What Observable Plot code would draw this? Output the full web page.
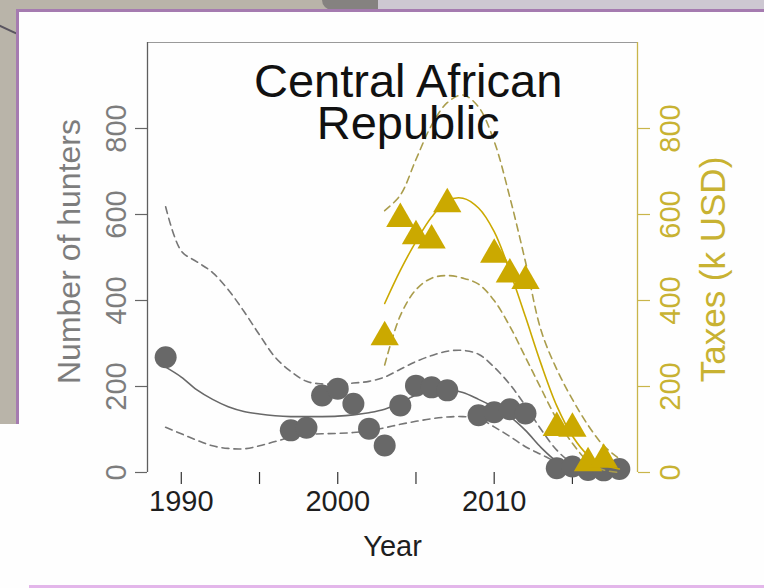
<!DOCTYPE html>
<html>
<head>
<meta charset="utf-8">
<script src="https://cdn.jsdelivr.net/npm/d3@7"></script>
<script src="https://cdn.jsdelivr.net/npm/@observablehq/plot@0.6"></script>
<style>
  html, body { margin: 0; padding: 0; }
  body { width: 764px; height: 588px; position: relative; overflow: hidden; background: #b9b4a9; font-family: "Liberation Sans", Arial, sans-serif; }
  .bg-top-dark { position: absolute; left: 322px; top: 0; width: 56px; height: 10px; background: #858280; border-bottom-left-radius: 18px; }
  .bg-top-right { position: absolute; left: 378px; top: 0; right: 0; height: 10px; background: #cdc8d2; }
  .panel { position: absolute; left: 16px; top: 9px; right: -4px; bottom: 2px; background: #fefefe; border-left: 3px solid #a57bb0; border-top: 3px solid #a57bb0; }
  .cover { position: absolute; left: 0; top: 424px; width: 40px; height: 164px; background: #fefefe; }
  .bottom-line { position: absolute; left: 29px; right: 0; bottom: 0; height: 3px; background: #e3b6ea; }
  .diag { position: absolute; left: -2px; top: 24px; width: 20px; height: 2px; background: #5a5560; transform: rotate(25deg); transform-origin: left center; }
  #chart { position: absolute; left: 0; top: 0; }
</style>
</head>
<body>
<div class="bg-top-dark"></div>
<div class="bg-top-right"></div>
<div class="diag"></div>
<div class="panel"></div>
<div class="cover"></div>
<div class="bottom-line"></div>
<div id="chart"></div>
<script>
// ---- observed data ----
const hunterYears = [1989, 1997, 1998, 1999, 2000, 2001, 2002, 2003, 2004, 2005, 2006, 2007, 2009, 2010, 2011, 2012, 2014, 2015, 2016, 2017, 2018];
const hunters     = [268,   98,  104,  179,  195,  160,  102,   63,  156,  202,  198,  191,  133,  140,  147,  137,   10,   14,    6,    5,    8];

const taxYears = [2003, 2004, 2005, 2006, 2007, 2010, 2011, 2012, 2014, 2015, 2016, 2017];
const taxes    = [ 315,  590,  550,  540,  624,  507,  461,  446,  104,  102,   22,   30];

// ---- fitted curves ----
const hunterFitYears = [1989, 1990, 1991, 1992, 1993, 1994, 1995, 1996, 1997, 1998, 1999, 2000, 2001, 2002, 2003, 2004, 2005, 2006, 2007, 2008, 2009, 2010, 2011, 2012, 2013, 2014, 2015, 2016, 2017, 2018];
const hunterFit   = [245, 222, 192, 170, 153, 142, 136, 132, 130, 130, 130, 131, 134, 139, 147, 162, 180, 191, 193, 186, 170, 152, 130, 98, 58, 26, 9, 4, 2, 2];
const hunterUpper = [618, 515, 490, 465, 425, 375, 320, 268, 235, 212, 206, 206, 208, 212, 222, 240, 258, 272, 282, 284, 275, 245, 205, 155, 100, 52, 22, 12, 8, 6];
const hunterLower = [105, 90, 75, 62, 56, 55, 62, 72, 82, 88, 90, 91, 93, 97, 104, 112, 119, 125, 129, 130, 126, 106, 84, 60, 42, 24, 10, 4, 1, 0];

const taxFitYears = [2003, 2004, 2005, 2006, 2007, 2008, 2009, 2010, 2011, 2012, 2013, 2014, 2015, 2016, 2017, 2018];
const taxFit   = [393, 470, 537, 594, 632, 638, 615, 560, 468, 362, 252, 155, 85, 40, 18, 8];
const taxUpper = [609, 645, 728, 808, 860, 878, 850, 770, 640, 490, 330, 240, 170, 110, 62, 32];
const taxLower = [250, 365, 425, 452, 458, 452, 438, 400, 340, 268, 195, 124, 68, 26, 6, 0];

// ---- axes ----
const xDomain = [1987.84, 2019.16];
const yDomain = [0, 1000];
const xTicks = [1990, 1995, 2000, 2005, 2010, 2015];
const xLabels = [1990, 2000, 2010];
const hunterTicks = [0, 200, 400, 600, 800];
const taxTicks = [0, 200, 400, 600, 800];
const titleLines = ["Central African", "Republic"];

const GRAY = "#686868";
const GRAY_DASH = "#767676";
const GOLD = "#cba900";
const GOLD_DASH = "#aa9d4c";
const FONT = "Liberation Sans, Arial, sans-serif";

const rows = (xs, ys) => xs.map((x, i) => ({x, y: ys[i]}));

const chart = Plot.plot({
  width: 764,
  height: 588,
  marginLeft: 147,
  marginRight: 127,
  marginTop: 42,
  marginBottom: 116,
  style: {background: "transparent", fontFamily: FONT, overflow: "visible"},
  x: {domain: xDomain},
  y: {domain: yDomain},
  marks: [
    // frame lines
    Plot.ruleY([yDomain[1]], {stroke: "#9a9a9a", strokeWidth: 1.2}),
    Plot.ruleX([xDomain[0]], {stroke: "#5e5e5e", strokeWidth: 1.3}),
    Plot.ruleX([xDomain[1]], {stroke: "#c9b54a", strokeWidth: 1.3}),
    // tick marks
    Plot.axisX({ticks: xTicks, tickSize: 12, tickFormat: () => "", label: null, stroke: "#333", strokeWidth: 1.2}),
    Plot.axisY({anchor: "left", ticks: hunterTicks, tickSize: 12, tickFormat: () => "", label: null, stroke: "#666", strokeWidth: 1.2}),
    Plot.axisY({anchor: "right", ticks: taxTicks, tickSize: 12, tickFormat: () => "", label: null, stroke: "#c9b54a", strokeWidth: 1.2}),
    // tick labels
    Plot.text(xLabels, {x: d => d, frameAnchor: "bottom", dy: 29, text: d => String(d), fontSize: 29, fill: "#1e1e1e", textAnchor: "middle", lineAnchor: "middle"}),
    Plot.text(hunterTicks, {y: d => d, frameAnchor: "left", dx: -31, rotate: -90, text: d => String(d), fontSize: 29, fill: "#7d7d7d", textAnchor: "middle", lineAnchor: "middle"}),
    Plot.text(taxTicks, {y: d => d, frameAnchor: "right", dx: 33, rotate: -90, text: d => String(d), fontSize: 29, fill: "#c8b232", textAnchor: "middle", lineAnchor: "middle"}),
    // axis titles
    Plot.text(["Year"], {frameAnchor: "bottom", dy: 74, fontSize: 29, fill: "#1e1e1e", textAnchor: "middle", lineAnchor: "middle"}),
    Plot.text(["Number of hunters"], {frameAnchor: "left", dx: -78, dy: -6, rotate: -90, fontSize: 32, fill: "#7d7d7d", textAnchor: "middle", lineAnchor: "middle"}),
    Plot.text(["Taxes (k USD)"], {frameAnchor: "right", dx: 76, dy: 12, rotate: -90, fontSize: 35, fill: "#c8b232", textAnchor: "middle", lineAnchor: "middle"}),
    // hunters
    Plot.line(rows(hunterFitYears, hunterUpper), {x: "x", y: "y", stroke: GRAY_DASH, strokeWidth: 1.6, strokeDasharray: "7,5", curve: "catmull-rom"}),
    Plot.line(rows(hunterFitYears, hunterLower), {x: "x", y: "y", stroke: GRAY_DASH, strokeWidth: 1.6, strokeDasharray: "7,5", curve: "catmull-rom"}),
    Plot.line(rows(hunterFitYears, hunterFit), {x: "x", y: "y", stroke: GRAY, strokeWidth: 1.6, curve: "catmull-rom"}),
    Plot.dot(rows(hunterYears, hunters), {x: "x", y: "y", r: 11, fill: GRAY, stroke: "none"}),
    // taxes
    Plot.line(rows(taxFitYears, taxUpper), {x: "x", y: "y", stroke: GOLD_DASH, strokeWidth: 1.6, strokeDasharray: "7,5", curve: "catmull-rom"}),
    Plot.line(rows(taxFitYears, taxLower), {x: "x", y: "y", stroke: GOLD_DASH, strokeWidth: 1.6, strokeDasharray: "7,5", curve: "catmull-rom"}),
    Plot.line(rows(taxFitYears, taxFit), {x: "x", y: "y", stroke: GOLD, strokeWidth: 1.6, curve: "catmull-rom"}),
    Plot.dot(rows(taxYears, taxes), {x: "x", y: "y", r: 10.5, symbol: "triangle", fill: GOLD, stroke: "none"}),
    // panel title (two lines)
    Plot.text([titleLines[0]], {x: () => 2004.5, frameAnchor: "top", dy: 54, textAnchor: "middle", lineAnchor: "bottom", fontSize: 47, fill: "#111"}),
    Plot.text([titleLines[1]], {x: () => 2004.5, frameAnchor: "top", dy: 96, textAnchor: "middle", lineAnchor: "bottom", fontSize: 47, fill: "#111"})
  ]
});
document.getElementById("chart").appendChild(chart);
</script>
</body>
</html>
